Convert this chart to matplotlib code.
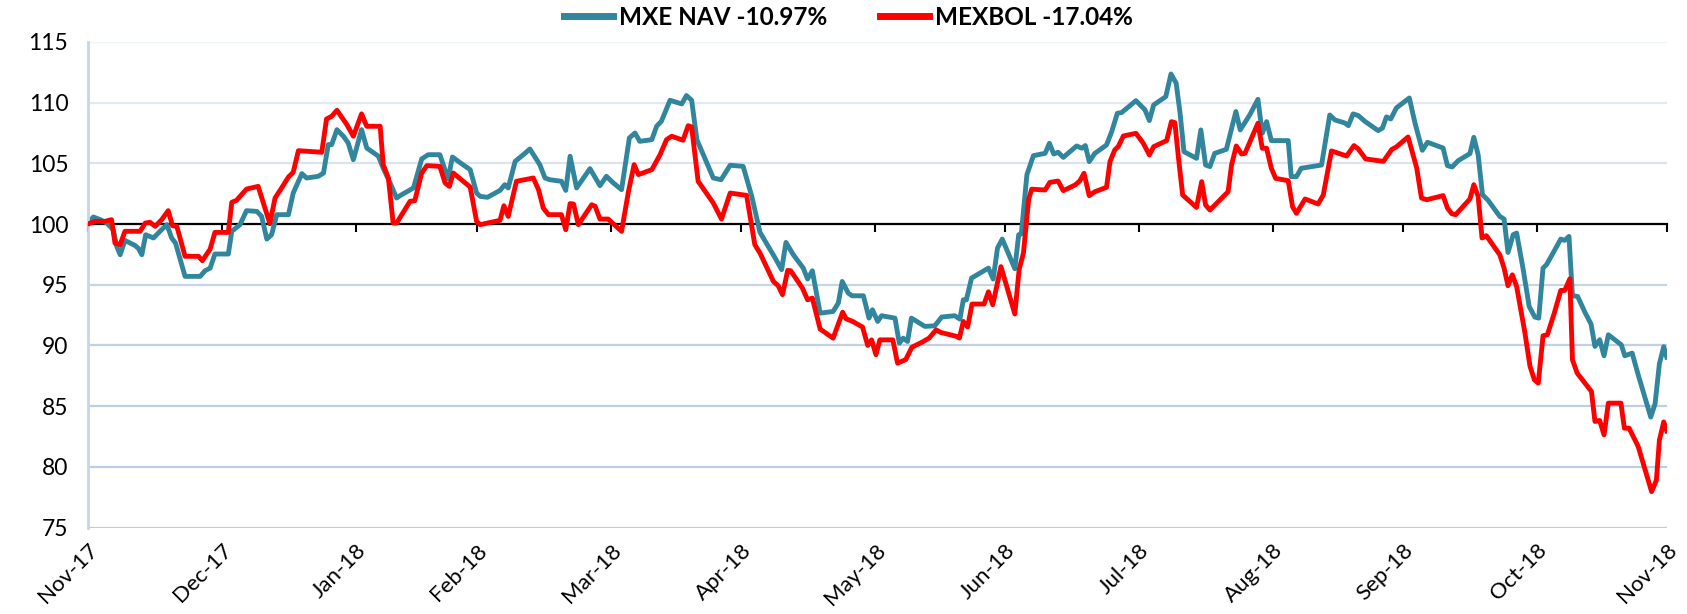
import numpy as np
import pandas as pd
import matplotlib
matplotlib.use("Agg")
import matplotlib.pyplot as plt
import matplotlib.dates as mdates
from matplotlib.lines import Line2D

# ---------------- data ----------------
start_date = "2017-11-30"
end_date = "2018-11-30"
nav_label = "MXE NAV -10.97%"
mex_label = "MEXBOL -17.04%"
y_ticks = [75, 80, 85, 90, 95, 100, 105, 110, 115]

# days elapsed since start_date
nav_days = [
    0, 1.3, 2.9, 4.4, 5.9, 6.7, 7.5, 8.6, 10.9, 11.7,
    12.5, 13.4, 15.2, 16.7, 18.3, 19.4, 20.3, 22.5, 26, 27.1,
    28.3, 29.4, 32.5, 33.3, 35.2, 36.7, 39.1, 40.2, 41.4, 42.5,
    43.7, 46.4, 47.5, 49.5, 50.6, 53.3, 54.5, 55.6, 56.4, 57.6,
    59.1, 60.2, 61.4, 63.3, 64.5, 67.2, 68.3, 69.9, 71.4, 72.2,
    75.3, 77.2, 78.7, 81.4, 83.3, 84.3, 86.4, 88.4, 89.9, 90.7,
    92.4, 95.3, 96.4, 97.2, 98.8, 100.7, 102.2, 104.5, 105.7, 106.8,
    109.5, 110.5, 111.5, 113, 116.1, 118.4, 119.9, 121.5, 123.4, 125.2,
    126.5, 127.6, 130.4, 131.5, 132.6, 134.6, 137.3, 138.4, 139.6, 140.8,
    144.6, 146.4, 148.5, 151.5, 153.5, 155.4, 157.3, 158.9, 160.4, 161.4,
    163.1, 165.4, 166.4, 167.5, 169.3, 172.3, 173.5, 174.4, 175.8, 176.7,
    179.3, 180.6, 181.4, 182.6, 183.5, 186.6, 187.6, 188.5, 189.5, 190.4,
    193.5, 195.8, 197.4, 200.4, 201.6, 202.4, 203.1, 204.3, 208.2, 209.3,
    210.3, 211.4, 214.3, 215.2, 215.8, 217.1, 218.6, 221.3, 222.3, 223.3,
    224.3, 225.5, 228.6, 229.8, 230.6, 231.5, 232.8, 235.5, 236.7, 238,
    239, 242.3, 244.4, 245.4, 246.4, 249.2, 250.4, 251.6, 252.5, 253.4,
    256.3, 257.3, 258.4, 259.4, 260.5, 263.2, 265.4, 266.4, 268.6, 270.5,
    271.5, 272.5, 273.6, 277.5, 278.2, 279.4, 280.5, 285.2, 287.1, 288.3,
    290.6, 291.4, 292.5, 293.7, 295.2, 298.3, 299.3, 300.2, 301.2, 302.5,
    305.5, 306.8, 308.5, 309.7, 313.3, 314.3, 315.4, 316.8, 319.5, 320.4,
    321.4, 322.4, 323.7, 326.4, 327.4, 328.3, 329.5, 330.3, 331.8, 333.2,
    334.5, 335.4, 336.4, 337.2, 338.5, 340.5, 341.4, 342.4, 343.2, 344.4,
    346.1, 347.5, 348.4, 349.5, 350.5, 351.5, 354.5, 355.3, 357, 358.4,
    361.3, 362.3, 363.3, 364.3, 365,
]
nav_values = [
    100.0, 100.58, 100.36, 100.08, 99.53, 98.16, 97.47, 98.65, 98.24, 98.0,
    97.47, 99.12, 98.85, 99.4, 99.95, 98.85, 98.43, 95.69, 95.69, 96.15,
    96.37, 97.53, 97.53, 99.4, 99.95, 101.1, 101.04, 100.63, 98.76, 99.12,
    100.77, 100.77, 102.55, 104.15, 103.79, 103.93, 104.2, 106.54, 106.54, 107.77,
    107.23, 106.68, 105.3, 107.77, 106.26, 105.58, 104.6, 103.38, 102.14, 102.34,
    102.97, 105.36, 105.71, 105.71, 103.71, 105.52, 104.97, 104.48, 102.55, 102.28,
    102.2, 102.77, 103.24, 102.97, 105.16, 105.71, 106.18, 104.89, 103.79, 103.65,
    103.52, 102.77, 105.58, 102.97, 104.56, 103.16, 103.93, 103.38, 102.83, 107.09,
    107.5, 106.81, 106.95, 108.05, 108.46, 110.19, 109.89, 110.58, 110.19, 106.95,
    103.79, 103.65, 104.84, 104.75, 102.28, 99.31, 98.16, 97.2, 96.24, 98.49,
    97.47, 96.37, 95.47, 96.15, 92.66, 92.8, 93.49, 95.27, 94.31, 94.09,
    94.09, 92.25, 92.94, 91.98, 92.45, 92.25, 90.19, 90.6, 90.33, 92.25,
    91.57, 91.62, 92.34, 92.45, 92.17, 93.76, 93.76, 95.55, 96.37, 95.47,
    98.02, 98.76, 96.32, 99.12, 99.18, 104.07, 105.63, 105.82, 106.65, 105.77,
    105.91, 105.49, 106.43, 106.24, 106.46, 105.14, 105.82, 106.51, 107.61, 109.12,
    109.18, 110.16, 109.4, 108.52, 109.81, 110.49, 112.36, 111.59, 109.12, 105.96,
    105.41, 107.75, 104.86, 104.73, 105.82, 106.15, 109.26, 107.75, 108.98, 110.27,
    107.47, 108.43, 106.87, 106.87, 103.9, 103.9, 104.59, 104.86, 108.98, 108.57,
    108.32, 108.1, 109.07, 108.93, 108.46, 107.69, 107.91, 108.82, 108.65, 109.56,
    110.38, 108.32, 106.07, 106.73, 106.26, 104.81, 104.7, 105.22, 105.8, 107.14,
    105.71, 102.42, 101.95, 100.63, 100.41, 97.66, 99.12, 99.26, 96.29, 93.21,
    92.34, 92.25, 96.37, 96.65, 97.47, 98.76, 98.65, 98.98, 94.09, 94.04,
    92.72, 91.76, 89.92, 90.47, 89.15, 90.88, 90.05, 89.15, 89.37, 87.58,
    84.1, 85.2, 88.5, 89.9, 89.03,
]

mex_days = [
    0, 1.7, 4, 5.5, 6.3, 7.5, 8.6, 12.1, 13.3, 14.4,
    15.6, 17.1, 18.6, 19.6, 20.6, 22.5, 25.6, 26.5, 28.3, 29.4,
    32.5, 33.3, 34.4, 36.7, 39.4, 42.1, 43.3, 44.8, 46.4, 47.5,
    48.7, 54.1, 55.2, 56.4, 57.6, 59.9, 61.4, 63.3, 64.5, 67.6,
    68.3, 69.5, 70.6, 71.4, 74.5, 75.6, 77.2, 78.4, 81.4, 82.6,
    83.6, 84.5, 88.4, 89.9, 90.7, 95.3, 96.2, 97.2, 99.1, 103,
    104.2, 105.3, 106.5, 109.5, 110.5, 111.5, 112.3, 113.4, 116.5, 117.3,
    118.4, 120.3, 123.4, 125, 126.3, 127.3, 130.4, 132.3, 133.8, 135,
    137.6, 138.8, 139.6, 141.1, 144.6, 146.5, 148.5, 152.3, 154.2, 155.4,
    158.5, 159.6, 160.6, 161.8, 162.5, 165.2, 166.4, 167.5, 169.3, 172.3,
    174.5, 175.3, 176.8, 179.1, 180.3, 181.2, 182.2, 183.1, 186.1, 187.2,
    189.1, 190.5, 193, 194.5, 196.1, 197.2, 200.7, 201.5, 202.4, 203.4,
    204.4, 207.2, 208.2, 209.2, 211.1, 214.3, 215.3, 216.3, 217.5, 218.2,
    221.3, 222.4, 224.3, 225.5, 228.2, 229.3, 230.3, 231.5, 232.8, 235.5,
    236.3, 237.4, 238.2, 239.4, 242.3, 244, 245.4, 246.4, 249.4, 250.5,
    251.3, 252.1, 253.1, 256.3, 257.5, 258.4, 259.4, 263.6, 264.4, 265.5,
    266.7, 267.5, 270.5, 271.5, 272.5, 273.6, 274.6, 277.5, 278.5, 279.4,
    281.4, 284.4, 285.6, 287.5, 291, 292.7, 293.7, 295.4, 299.5, 301.4,
    302.5, 305.2, 307.2, 308.3, 309.5, 313.3, 314.3, 315.3, 316.2, 319.5,
    320.4, 321.4, 322.3, 323.3, 326.4, 327.4, 328.3, 329.3, 330.3, 332.2,
    333.4, 334.4, 335.3, 336.4, 337.4, 339, 340.5, 341.4, 342.6, 343.2,
    344.3, 347.6, 348.4, 349.5, 350.5, 351.5, 354.4, 355.2, 356.3, 358.4,
    361.5, 362.6, 363.3, 364.3, 365,
]
mex_values = [
    100.0, 100.22, 100.22, 100.36, 98.43, 98.3, 99.4, 99.4, 100.08, 100.14,
    99.81, 100.36, 101.1, 99.86, 99.81, 97.34, 97.34, 96.98, 97.94, 99.31,
    99.31, 101.79, 101.95, 102.88, 103.1, 100.03, 102.14, 102.96, 103.87, 104.26,
    106.04, 105.91, 108.65, 108.87, 109.37, 108.19, 107.23, 109.07, 108.05, 108.05,
    104.89, 103.79, 100.08, 100.08, 101.87, 101.92, 104.2, 104.81, 104.75, 103.38,
    103.1, 104.2, 103.05, 100.22, 99.95, 100.3, 101.51, 100.63, 103.52, 103.79,
    102.83, 101.32, 100.77, 100.77, 99.53, 101.68, 101.65, 99.95, 101.59, 101.46,
    100.41, 100.41, 99.4, 102.69, 104.89, 104.07, 104.48, 105.71, 106.95, 107.23,
    106.9, 108.1, 107.99, 103.52, 101.73, 100.41, 102.55, 102.36, 98.3, 97.61,
    95.27, 94.92, 94.18, 96.18, 96.15, 94.73, 93.76, 93.9, 91.35, 90.6,
    92.74, 92.2, 91.98, 91.52, 90.0, 90.46, 89.24, 90.46, 90.46, 88.54,
    88.84, 89.85, 90.3, 90.61, 91.28, 91.07, 90.76, 90.61, 91.98, 91.52,
    93.41, 93.41, 94.42, 93.35, 96.49, 92.59, 96.25, 97.62, 102.04, 102.87,
    102.8, 103.43, 103.54, 102.75, 103.21, 103.54, 104.18, 102.34, 102.66, 103.02,
    105.14, 106.1, 106.37, 107.25, 107.47, 106.65, 105.69, 106.37, 106.87, 108.43,
    108.35, 105.55, 102.39, 101.37, 103.49, 101.57, 101.15, 102.66, 104.86, 106.43,
    105.77, 105.82, 108.3, 106.24, 106.24, 104.59, 103.76, 103.57, 101.43, 100.88,
    102.06, 101.65, 102.39, 106.02, 105.6, 106.46, 106.18, 105.36, 105.16, 106.13,
    106.35, 107.17, 104.62, 102.14, 102.0, 102.34, 101.32, 100.85, 100.77, 102.06,
    103.24, 102.28, 98.85, 99.04, 97.47, 96.37, 94.92, 95.82, 94.86, 91.07,
    88.27, 87.17, 86.9, 90.8, 90.88, 92.66, 94.53, 94.53, 95.49, 88.82,
    87.72, 86.21, 83.74, 83.82, 82.64, 85.25, 85.25, 83.19, 83.19, 81.68,
    77.96, 78.9, 82.2, 83.7, 82.96,
]

# ---------------- styling ----------------
NAV_COLOR = "#31859C"
MEX_COLOR = "#FF0000"
FONT = ["Lato", "DejaVu Sans"]
plt.rcParams["font.family"] = FONT

start = pd.Timestamp(start_date)
nav_x = mdates.date2num(start + pd.to_timedelta(nav_days, unit="D"))
mex_x = mdates.date2num(start + pd.to_timedelta(mex_days, unit="D"))
month_ends = pd.date_range(start_date, end_date, freq="ME")
tick_x = mdates.date2num(month_ends)

fig = plt.figure(figsize=(16.87, 6.14), dpi=100)
ax = fig.add_axes([0.052, 0.1407, 0.936, 0.7911])

grid_colors = {115: "#eef3f9", 110: "#e2e9f3", 105: "#dae3f0",
               95: "#c4d4e9", 90: "#bfd0e7", 85: "#bccde6",
               80: "#bccde6", 75: "#bccde6"}
for yv in y_ticks:
    if yv == 100:
        continue
    ax.axhline(yv, color=grid_colors.get(yv, "#bccde6"), lw=1.6, zorder=0)

ax.plot(mex_x, mex_values, color=MEX_COLOR, lw=3.5, solid_joinstyle="round", zorder=3)
ax.plot(nav_x, nav_values, color=NAV_COLOR, lw=3.5, solid_joinstyle="round", zorder=2)

ax.set_xlim(tick_x[0], tick_x[-1])
ax.set_ylim(y_ticks[0], y_ticks[-1])
ax.set_yticks(y_ticks)
ax.tick_params(axis="y", length=0, pad=14, labelsize=16.5)

for s in ["top", "right"]:
    ax.spines[s].set_visible(False)
ax.spines["left"].set_color("#c5d5ea")
ax.spines["left"].set_linewidth(2)
ax.spines["bottom"].set_position(("data", 100))
ax.spines["bottom"].set_color("black")
ax.spines["bottom"].set_linewidth(1.6)
ax.spines["bottom"].set_zorder(1)
ax.set_xticks(tick_x)
ax.tick_params(axis="x", direction="out", length=6, width=1.5, color="black",
               labelbottom=False)

sec = ax.secondary_xaxis(0)
sec.set_xticks(tick_x)
sec.set_xticklabels([d.strftime("%b-%y") for d in month_ends])
sec.tick_params(length=0, pad=9, labelsize=16)
sec.spines["bottom"].set_visible(False)
for lbl in sec.get_xticklabels():
    lbl.set_rotation(45)
    lbl.set_ha("right")
    lbl.set_va("top")
    lbl.set_rotation_mode("anchor")

handles = [Line2D([], [], color=NAV_COLOR, lw=5),
           Line2D([], [], color=MEX_COLOR, lw=5)]
fig.legend(handles, [nav_label, mex_label], loc="center",
           bbox_to_anchor=(0.503, 0.972), ncol=2, frameon=False,
           prop={"family": FONT, "weight": "bold", "size": 17.5},
           handlelength=2.0, handletextpad=0.25, columnspacing=2.2)

fig.savefig("out.png", dpi=100)
